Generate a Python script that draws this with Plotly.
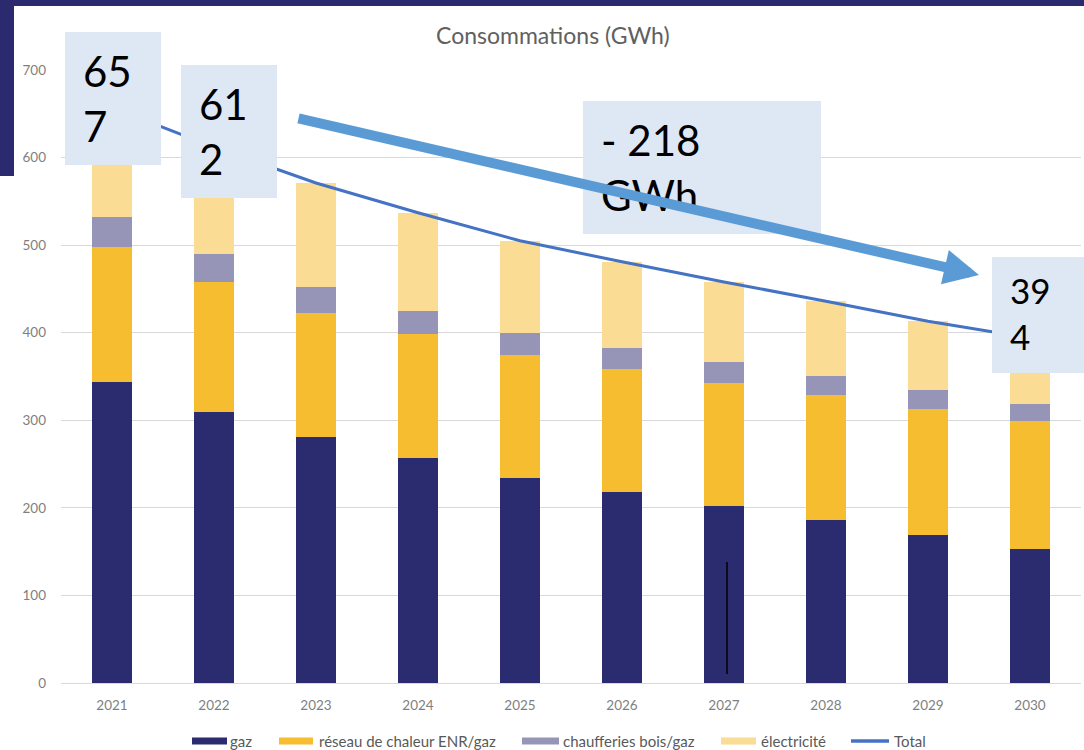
import plotly.graph_objects as go

# Consommations annuelles par source (GWh)
years = ["2021", "2022", "2023", "2024", "2025", "2026", "2027", "2028", "2029", "2030"]
gaz = [344, 309, 281, 257, 234, 218, 202, 186, 169, 153]
reseau = [154, 149, 142, 141, 140, 140, 141, 143, 144, 146]
chaufferies = [34, 32, 29, 27, 26, 24, 23, 22, 22, 20]
electricite = [125, 122, 119, 112, 105, 99, 92, 85, 78, 75]
total = [g + r + c + e for g, r, c, e in zip(gaz, reseau, chaufferies, electricite)]

series_names = ["gaz", "réseau de chaleur ENR/gaz", "chaufferies bois/gaz", "électricité", "Total"]
series_colors = ["#2B2C6F", "#F6BD31", "#9695B8", "#FADC94", "#4472C4"]
y_ticks = [0, 100, 200, 300, 400, 500, 600, 700]
title_text = "Consommations (GWh)"
reduction_text = "- 218<br>GWh"

W, H = 1084, 750
L, R, T, B = 61, 3, 70, 67


def px(x):
    return (x - L) / (W - L - R)


def py(y):
    return (H - B - y) / (H - T - B)


def split_value(v):
    s = str(v)
    return s[:2] + "<br>" + s[2:]


fig = go.Figure()
for name, vals, col in zip(series_names[:4], [gaz, reseau, chaufferies, electricite], series_colors[:4]):
    fig.add_trace(go.Bar(x=years, y=vals, name=name, marker=dict(color=col, line=dict(width=0))))

fig.add_trace(go.Scatter(x=years, y=total, name=series_names[4], mode="lines",
                         line=dict(color=series_colors[4], width=3)))

shapes = []
annotations = []

# dark frame band
frame = "#2B2A6E"
shapes.append(dict(type="rect", xref="paper", yref="paper", x0=px(0), x1=px(W), y0=py(6), y1=py(0),
                   fillcolor=frame, line=dict(width=0), layer="above"))
shapes.append(dict(type="rect", xref="paper", yref="paper", x0=px(0), x1=px(14), y0=py(176), y1=py(0),
                   fillcolor=frame, line=dict(width=0), layer="above"))

# stray pen stroke in the 2027 bar
shapes.append(dict(type="line", xref="paper", yref="paper", x0=px(727), x1=px(727), y0=py(674), y1=py(562),
                   line=dict(color="black", width=1.5), layer="above"))

# callout boxes
box_fill = "#DDE8F4"
boxes = [
    (65, 161, 32, 165, split_value(total[0]), 82, 98, 42),
    (181, 277, 65, 198, split_value(total[1]), 198, 132, 42),
    (583, 821, 101, 234, reduction_text, 600, 167, 42),
    (992, 1084, 257, 373, split_value(total[-1]), 1009, 313, 35),
]
for x0, x1, y0, y1, txt, tx, ty, fs in boxes:
    shapes.append(dict(type="rect", xref="paper", yref="paper", x0=px(x0), x1=px(x1), y0=py(y1), y1=py(y0),
                       fillcolor=box_fill, line=dict(width=0), layer="above"))
    annotations.append(dict(xref="paper", yref="paper", x=px(tx), y=py(ty), xanchor="left", yanchor="middle",
                            text=txt, showarrow=False, align="left", borderpad=0,
                            font=dict(family="Lato", size=fs, color="black")))

# trend arrow
annotations.append(dict(xref="paper", yref="paper", x=px(979), y=py(275), ax=297 - 979, ay=118 - 275,
                        text="", showarrow=True, arrowhead=2, arrowsize=0.7, arrowwidth=10,
                        arrowcolor="#5B9BD5", standoff=0, startstandoff=0))

# title
annotations.append(dict(xref="paper", yref="paper", x=px(553), y=py(35), xanchor="center", yanchor="middle",
                        text=title_text, showarrow=False, font=dict(family="Lato", size=23, color="#606060")))

# legend row
legend_items = [
    (192, 227, 229),
    (279, 313, 318),
    (522, 559, 562),
    (721, 756, 760),
    (851, 889, 893),
]
ly = 741
for (s0, s1, tx), name, col in zip(legend_items, series_names, series_colors):
    if name == "Total":
        shapes.append(dict(type="line", xref="paper", yref="paper", x0=px(s0), x1=px(s1), y0=py(ly), y1=py(ly),
                           line=dict(color=col, width=3.5)))
    else:
        shapes.append(dict(type="rect", xref="paper", yref="paper", x0=px(s0), x1=px(s1),
                           y0=py(ly + 3.5), y1=py(ly - 3.5), fillcolor=col, line=dict(width=0)))
    annotations.append(dict(xref="paper", yref="paper", x=px(tx), y=py(ly), xanchor="left", yanchor="middle",
                            text=name, showarrow=False, borderpad=0,
                            font=dict(family="Lato", size=15, color="#595959")))

fig.update_layout(
    width=W, height=H,
    margin=dict(l=L, r=R, t=T, b=B),
    barmode="stack", bargap=0.6,
    plot_bgcolor="white", paper_bgcolor="white",
    showlegend=False,
    font=dict(family="Lato", color="#7F7F7F"),
    shapes=shapes, annotations=annotations,
    xaxis=dict(showgrid=False, showline=True, linecolor="#D9D9D9", linewidth=1, ticks="",
               tickfont=dict(size=13.5, color="#7F7F7F"), ticklabelstandoff=10, fixedrange=True),
    yaxis=dict(range=[0, 700], tickvals=y_ticks, showgrid=True, gridcolor="#D9D9D9", gridwidth=1,
               zeroline=False, showline=False, ticks="", tickfont=dict(size=13.5, color="#7F7F7F"),
               ticklabelstandoff=14, fixedrange=True),
)

fig.write_html("out.html")
